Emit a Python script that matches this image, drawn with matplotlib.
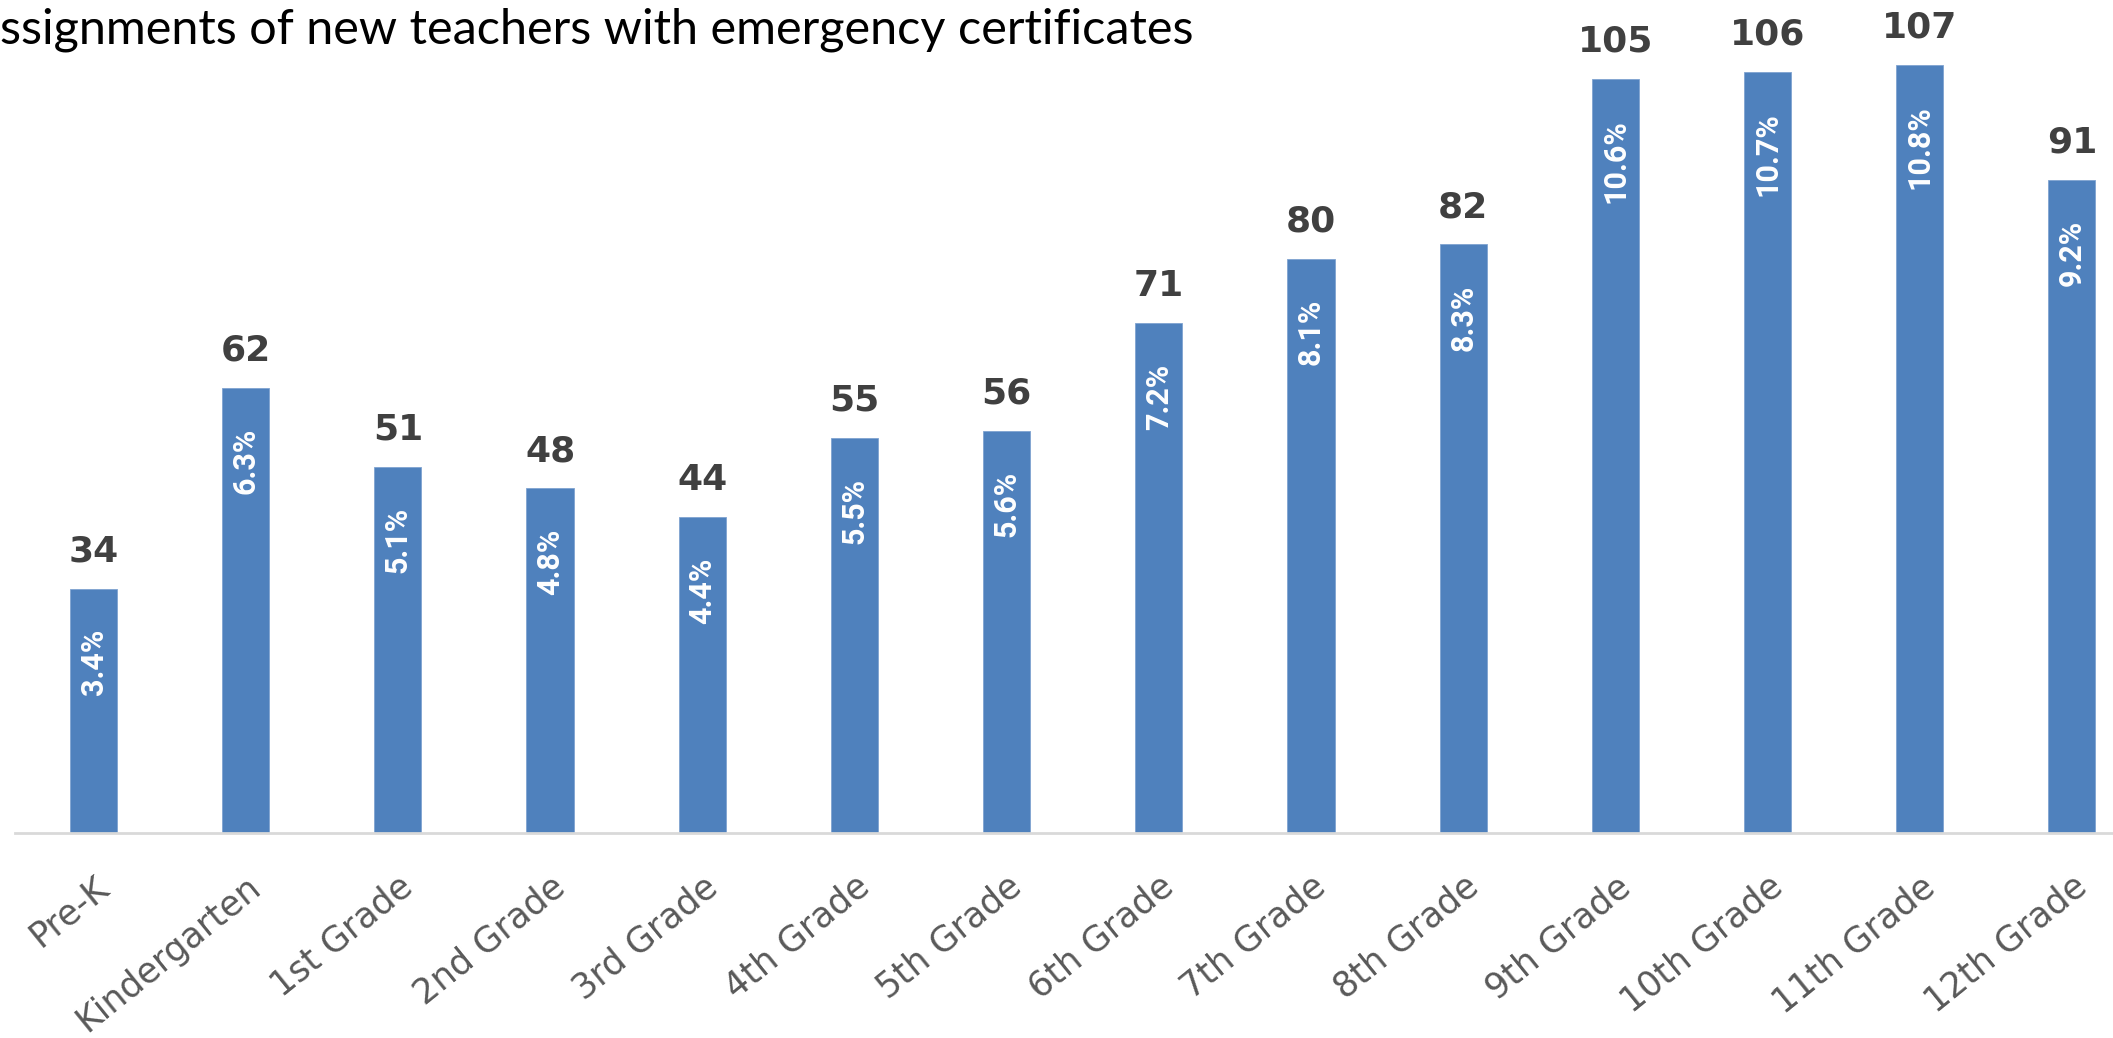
import matplotlib.pyplot as plt
import matplotlib.transforms as mtransforms

grades = ["Pre-K", "Kindergarten", "1st Grade", "2nd Grade", "3rd Grade",
          "4th Grade", "5th Grade", "6th Grade", "7th Grade", "8th Grade",
          "9th Grade", "10th Grade", "11th Grade", "12th Grade"]
counts = [34, 62, 51, 48, 44, 55, 56, 71, 80, 82, 105, 106, 107, 91]
shares = [3.4, 6.3, 5.1, 4.8, 4.4, 5.5, 5.6, 7.2, 8.1, 8.3, 10.6, 10.7, 10.8, 9.2]

title = "ssignments of new teachers with emergency certificates"

bar_color = "#4F81BD"

fig = plt.figure(figsize=(21.13, 10.38), dpi=100)
ax = fig.add_axes([0.0071, 0.1975, 0.9929, 0.8025])

x = list(range(len(grades)))
bars = ax.bar(x, counts, width=0.31, color=bar_color, edgecolor="#7FA3D0", linewidth=0.6)

ax.set_xlim(-0.516, 13.27)
ax.set_ylim(0, 116)

for b, n, s in zip(bars, counts, shares):
    cx = b.get_x() + b.get_width() / 2
    ax.annotate(str(n), (cx, n), xytext=(0, 19.5), textcoords="offset points",
                ha="center", va="baseline", fontsize=26, fontweight="bold",
                color="#404040", family="DejaVu Sans")
    ax.annotate(f"{s}%", (cx, n), xytext=(0, -29), textcoords="offset points",
                ha="center", va="top", rotation=90, fontsize=22,
                fontweight="bold", color="white", family="Roboto")

ax.set_xticks(x)
ax.set_xticklabels(grades, rotation=39, ha="right", va="top",
                   rotation_mode="anchor", fontsize=25, color="#595959",
                   family="DejaVu Sans")
shift = mtransforms.ScaledTranslation(6 / 100, 0, fig.dpi_scale_trans)
for lbl in ax.get_xticklabels():
    lbl.set_transform(lbl.get_transform() + shift)
ax.tick_params(axis="x", length=0, pad=26)
ax.set_yticks([])

for side in ["left", "right", "top"]:
    ax.spines[side].set_visible(False)
ax.spines["bottom"].set_color("#D9D9D9")
ax.spines["bottom"].set_linewidth(2)

fig.text(0.0, 1 - 43 / 1038, title, ha="left", va="baseline",
         fontsize=35, color="black", family="Lato")

fig.savefig("out.png", dpi=100)
